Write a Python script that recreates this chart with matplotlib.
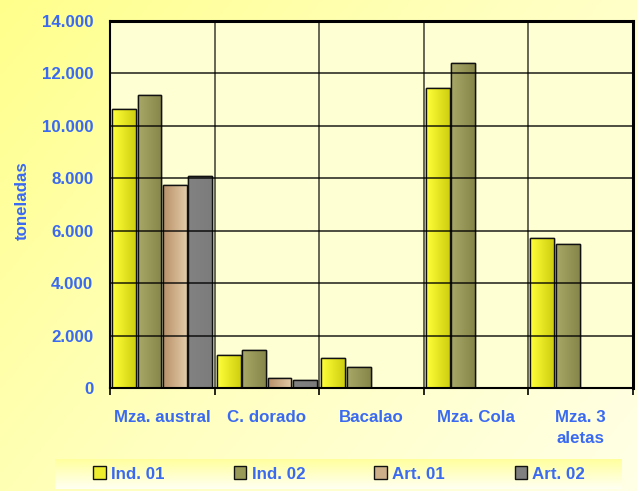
import numpy as np
import matplotlib
matplotlib.use("Agg")
import matplotlib.pyplot as plt
from matplotlib.ticker import FuncFormatter, FixedLocator
from matplotlib.colors import LinearSegmentedColormap, to_rgb

# ---- data ----
categories = ["Mza. austral", "C. dorado", "Bacalao", "Mza. Cola", "Mza. 3\naletas"]
series_names = ["Ind. 01", "Ind. 02", "Art. 01", "Art. 02"]
ind01 = [10660, 1260, 1140, 11460, 5710]
ind02 = [11180, 1460, 800, 12410, 5500]
art01 = [7740, 380, 0, 0, 0]
art02 = [8070, 320, 0, 0, 0]
y_ticks = [0, 2000, 4000, 6000, 8000, 10000, 12000, 14000]

series = [ind01, ind02, art01, art02]
colors = ["#eded2e", "#9a9a58", "#cdb08a", "#808080"]
gradients = [("#ffff3a", "#cfcf10"), ("#a8a868", "#86864a"),
             ("#b89068", "#e2cca8"), ("#828282", "#7c7c7c")]
text_blue = "#3b6af2"

plt.rcParams['font.family'] = ['Liberation Sans', 'DejaVu Sans']

W, H = 637, 491
fig = plt.figure(figsize=(W / 100, H / 100), dpi=100)

# figure background gradient
bg = fig.add_axes([0, 0, 1, 1], zorder=-10)
xx, yy = np.meshgrid(np.linspace(0, 1, 200), np.linspace(0, 1, 200))
t = np.clip(0.55 * xx + 0.35 * (1 - yy), 0, 1)
bgcmap = LinearSegmentedColormap.from_list("bg", ["#ffff8c", "#ffffc0", "#ffffe6"])
bg.imshow(t, cmap=bgcmap, aspect="auto", extent=[0, 1, 0, 1], origin="lower")
bg.set_axis_off()

# legend band
band = fig.add_axes([55 / W, 1 - 489 / H, (622 - 55) / W, 30 / H], zorder=-5)
by = np.linspace(0, 1, 50)[:, None] * np.ones((1, 50))
bandcmap = LinearSegmentedColormap.from_list("band", ["#fffff2", "#ffff9e"])
band.imshow(by, cmap=bandcmap, aspect="auto", extent=[0, 1, 0, 1], origin="lower")
band.set_axis_off()

# main axes
ax = fig.add_axes([110 / W, 1 - 388 / H, 523 / W, 367 / H])
ax.set_facecolor("#ffffd4")

n = len(categories)
x = np.arange(n)
offset, step, width = 0.02, 0.243, 0.228
for k, (vals, c, name, (g0, g1)) in enumerate(zip(series, colors, series_names, gradients)):
    bars = ax.bar(x - 0.5 + offset + k * step, vals, width=width, align="edge",
                  color=c, edgecolor="#111111", linewidth=1.0, label=name, zorder=2)
    c0, c1 = np.array(to_rgb(g0)), np.array(to_rgb(g1))
    s = np.linspace(0, 1, 64)[:, None]
    grad = (c0 * (1 - s) + c1 * s)[None, :, :]
    for p in bars.patches:
        if p.get_height() <= 0:
            continue
        x0, y0 = p.get_x(), p.get_y()
        im = ax.imshow(grad, extent=[x0, x0 + p.get_width(), y0, y0 + p.get_height()],
                       aspect="auto", zorder=2.1, interpolation="bilinear")
        im.set_clip_path(p)
        ax.bar(x0, p.get_height(), width=p.get_width(), align="edge", fill=False,
               edgecolor="#111111", linewidth=1.0, zorder=2.2)

ax.set_xlim(-0.5, n - 0.5)
ax.set_ylim(0, 14000)

# grid
ax.yaxis.set_major_locator(FixedLocator(y_ticks))
ax.yaxis.set_major_formatter(FuncFormatter(lambda v, p: f"{int(v):,}".replace(",", ".")))
for v in y_ticks[1:-1]:
    ax.axhline(v, color="black", linewidth=1.3, alpha=0.75, zorder=3)
for b in np.arange(0.5, n - 0.5, 1):
    ax.axvline(b, color="black", linewidth=1.2, alpha=0.7, zorder=3)

ax.set_xticks(x)
ax.set_xticklabels(categories)
ax.set_xticks(np.arange(-0.5, n, 1), minor=True)
ax.tick_params(axis="x", which="major", length=0, pad=16)
ax.tick_params(axis="x", which="minor", length=5, width=1.2, direction="out")
ax.tick_params(axis="y", length=0, pad=12)
for lab in ax.get_xticklabels() + ax.get_yticklabels():
    lab.set_color(text_blue)
    lab.set_fontweight("bold")
    lab.set_fontsize(12.2)
for lab in ax.get_xticklabels():
    lab.set_verticalalignment("top")
    lab.set_linespacing(1.5)

for side in ["left", "bottom"]:
    ax.spines[side].set_linewidth(1.5)
for side in ["top", "right"]:
    ax.spines[side].set_linewidth(2.2)
for sp in ax.spines.values():
    sp.set_zorder(4)

fig.text(22 / W, 1 - 201 / H, "toneladas", rotation=90, ha="center", va="center",
         color=text_blue, fontsize=12.2, fontweight="bold")

handles, labels = ax.get_legend_handles_labels()
leg = fig.legend(handles, labels, loc="center", bbox_to_anchor=(339 / W, 1 - 474 / H),
                 ncol=4, frameon=False, handlelength=0.75, handleheight=0.75,
                 handletextpad=0.3, columnspacing=4.1,
                 prop={"weight": "bold", "size": 12.2})
for txt in leg.get_texts():
    txt.set_color(text_blue)

fig.savefig("out.png", dpi=100)
